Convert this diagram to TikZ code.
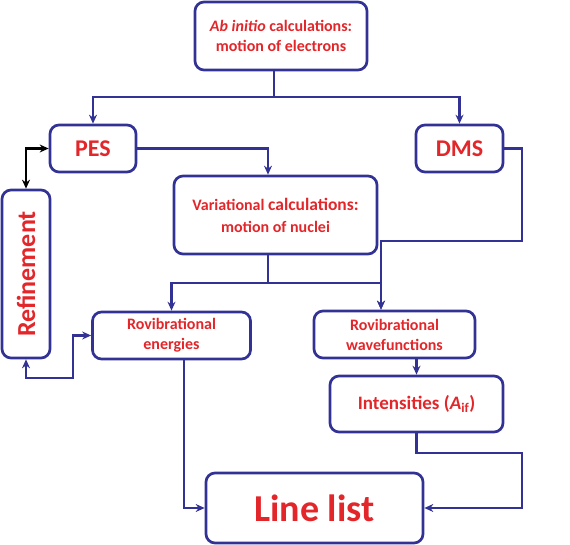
\documentclass[tikz,border=0pt]{standalone}
\usepackage{fontspec}
\setmainfont{Carlito}
\usetikzlibrary{
  arrows.meta
}
\definecolor{boxblue}{RGB}{50,50,148}
\definecolor{txtred}{RGB}{226,38,42}
\newcommand{\fs}[1]{\fontsize{#1}{1.25\dimexpr #1pt\relax}\selectfont}
\tikzset{
  blk/.style={
    draw=boxblue,
    line width=2.7pt,
    rounded corners=9pt,
    text=txtred,
    align=center,
    inner sep=0pt},
  line/.style={
    draw=boxblue,
    line width=2.5pt},
  tip/.style={
    -{Stealth[length=9pt,width=8pt,inset=3pt]}},
  both/.style={
    line width=2.5pt,
    {Stealth[length=9pt,width=8pt,inset=3pt]}-{Stealth[length=9pt,width=8pt,inset=3pt]}},
  hv/.style={to path={-| (\tikztotarget)}},
  vh/.style={to path={|- (\tikztotarget)}}
  }

\begin{document}
\begin{tikzpicture}[x=1pt,y=-1pt]
    \useasboundingbox (0,0) rectangle (570,545);
    \node[blk, font=\bfseries\fs{16}, minimum width=172, minimum height=68] (abinit) at (281,36)
      {\textit{Ab initio} calculations:\\motion of electrons};
    \node[blk, font=\bfseries\fs{24}, minimum width=86, minimum height=47] (pes) at (93,148.5) {PES};
    \node[blk, font=\bfseries\fs{24}, minimum width=87, minimum height=47] (dms) at (459.5,148.5) {DMS};
    \node[blk, font=\bfseries\fs{16}, minimum width=203, minimum height=78] (var) at (275.5,215)
      {Variational {\fs{17.5}calculations:}\\[2pt]motion of nuclei};
    \node[blk, font=\bfseries\fs{26}, minimum width=48, minimum height=168] (ref) at (26,274)
      {\raisebox{0pt}{\rotatebox{90}{Refinement}}};
    \node[blk, font=\bfseries\fs{16}, minimum width=158, minimum height=47] (rove) at (171.5,335.5)
      {Rovibrational\\energies};
    \node[blk, font=\bfseries\fs{16}, minimum width=161, minimum height=47] (rowf) at (394.5,334.5)
      {Rovibrational\\wavefunctions};
    \node[blk, font=\bfseries\fs{19}, minimum width=173, minimum height=56] (inten) at (416.5,404)
      {Intensities (\textit{A}\textsubscript{if})};
    \node[blk, font=\bfseries\fs{38}, minimum width=217, minimum height=70] (ll) at (314.5,508)
      {Line list};
    % junctions
    \coordinate (top) at (274,97);
    \coordinate (mid) at (268,283);
    \coordinate (dmsr) at (522,241);
    \coordinate (intr) at (522,453);
    \coordinate (back) at (73,378);
    \draw[line]
    (abinit.south -| top) -- (top)
    (var.south -| mid) -- (mid);
    \draw[line]
    (top) edge[tip,hv] (pes.north)
    (top) edge[tip,hv] (dms.north)
    (pes.east) edge[tip,hv] (var.north -| mid)
    (mid) edge[tip,hv] (rove.north)
    (mid) edge[tip,hv] ([xshift=-13.5pt]rowf.north)
    ([xshift=12.5pt]rove.south) edge[tip,vh] (ll.west)
    (inten.north |- rowf.south) edge[tip] (inten.north);
    \draw[line, tip] (dms.east) -| (dmsr) -| ([xshift=-13.5pt]rowf.north);
    \draw[line, tip] (inten.south) |- (intr) |- (ll.east);
    \draw[both, draw=black] (ref.north) |- (pes.west);
    \draw[both, draw=boxblue] (rove.west) -| (back) -| (ref.south);
\end{tikzpicture}
\end{document}
